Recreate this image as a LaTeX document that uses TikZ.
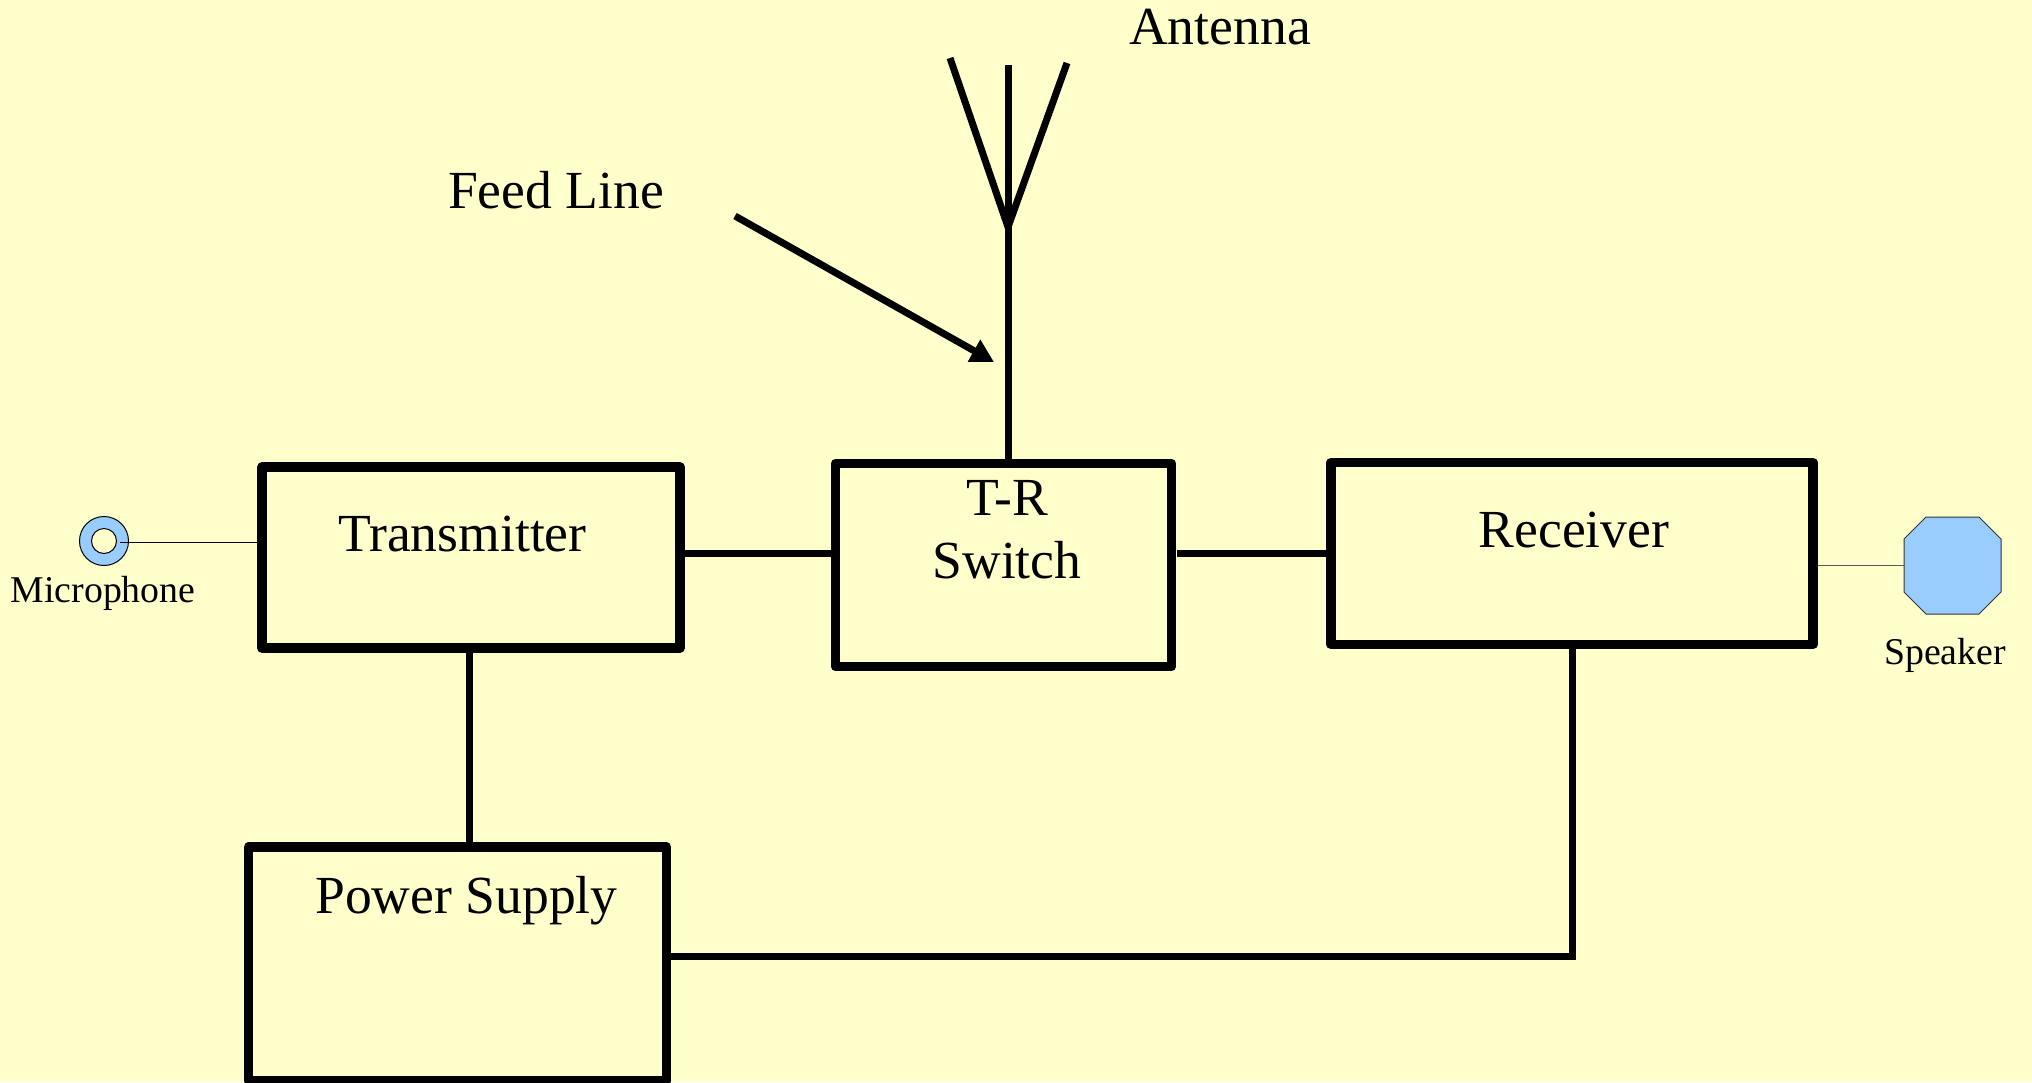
\documentclass[tikz,border=0pt]{standalone}
\usepackage{fontspec}
\setmainfont{Liberation Serif}
\usetikzlibrary{arrows.meta}
\definecolor{pagebg}{HTML}{FFFFCC}
\definecolor{partblue}{HTML}{99CCFF}
\tikzset{
  blockbox/.style={draw=black,line width=9.5pt,line join=round,inner sep=0pt,outer sep=0pt},
  wire/.style={draw=black,line width=7pt},
  thinwire/.style={draw=black,line width=1pt},
  biglabel/.style={anchor=base,inner sep=0pt,font=\fontsize{53.6}{60}\selectfont},
  smalllabel/.style={anchor=base,inner sep=0pt,font=\fontsize{37.8}{44}\selectfont},
}
\begin{document}
\begin{tikzpicture}[x=1pt,y=-1pt]
\fill[pagebg] (0,0) rectangle (2032,1082);
\useasboundingbox (0,0) rectangle (2032,1082);

% boxes
\node[blockbox,minimum width=418pt,minimum height=181pt] (tx) at (471,557.5) {};
\node[blockbox,minimum width=336pt,minimum height=203pt] (tr) at (1003.5,565) {};
\node[blockbox,minimum width=482pt,minimum height=182pt] (rx) at (1572,553.5) {};
\node[blockbox,minimum width=418pt,minimum height=234pt] (ps) at (457.5,964) {};

% labels
\node[biglabel] (txl) at (462.5,551) {Transmitter};
\node[biglabel] (trl) at (1007,515) {T-R};
\node[biglabel] (swl) at (1007,578) {Switch};
\node[biglabel] (rxl) at (1574,547.5) {Receiver};
\node[biglabel] (psl) at (466.5,913.5) {Power Supply};
\node[biglabel] (antl) at (1220,44.5) {Antenna};
\node[biglabel] (feedl) at (556,208) {Feed Line};
\node[smalllabel] (micl) at (103,602) {Microphone};
\node[smalllabel] (spkl) at (1945,664) {Speaker};

% microphone and speaker
\node[circle,draw=black,line width=1pt,fill=partblue,minimum size=49pt,inner sep=0pt,outer sep=0pt] (mic) at (104,541) {};
\node[circle,draw=black,line width=1pt,fill=pagebg,minimum size=25pt,inner sep=0pt,outer sep=0pt] (micin) at (104,541) {};
\node[rectangle,minimum width=97pt,minimum height=97pt,inner sep=0pt,outer sep=0pt] (spk) at (1952.5,565.5) {};
\filldraw[draw=black!80,line width=1pt,fill=partblue,line join=miter]
  (spk.north west) ++(22,0) -- ++(53,0) -- ++(22,22) -- ++(0,53) -- ++(-22,22) -- ++(-53,0) -- ++(-22,-22) -- ++(0,-53) -- cycle;
\coordinate (micend) at (120,542);
\coordinate (spkend) at (1818,565.5);
\draw[thinwire] (micend) -- (tx.west |- micend);
\draw[thinwire,draw=black!65] (spkend) -- (spk.west);

% connectors between blocks
\draw[wire] (tx.east |- 0,553.5) -- (tr.west |- 0,553.5);
\coordinate (trout) at (1177,553.5);
\draw[wire] (trout) -- (rx.west |- trout);
\draw[wire] (tx.south -| 469,0) -- (ps.north -| 469,0);
\coordinate (bend) at (1572,956);
\draw[wire,line join=miter] (rx.south -| bend) -- (bend) -- (ps.east |- bend);

% antenna
\coordinate (antbase) at (1008,227);
\coordinate (anttop) at (1008,65);
\coordinate (antleft) at (950,58);
\coordinate (antright) at (1067,63);
\draw[wire] (tr.north -| antbase) -- (anttop);
\draw[wire,line join=miter] (antleft) -- (antbase) -- (antright);

% feed line arrow
\coordinate (feedstart) at (735,216);
\coordinate (feedtip) at (994,362);
\draw[wire,-{Triangle[length=23pt,width=24pt]}] (feedstart) -- (feedtip);
\end{tikzpicture}
\end{document}
